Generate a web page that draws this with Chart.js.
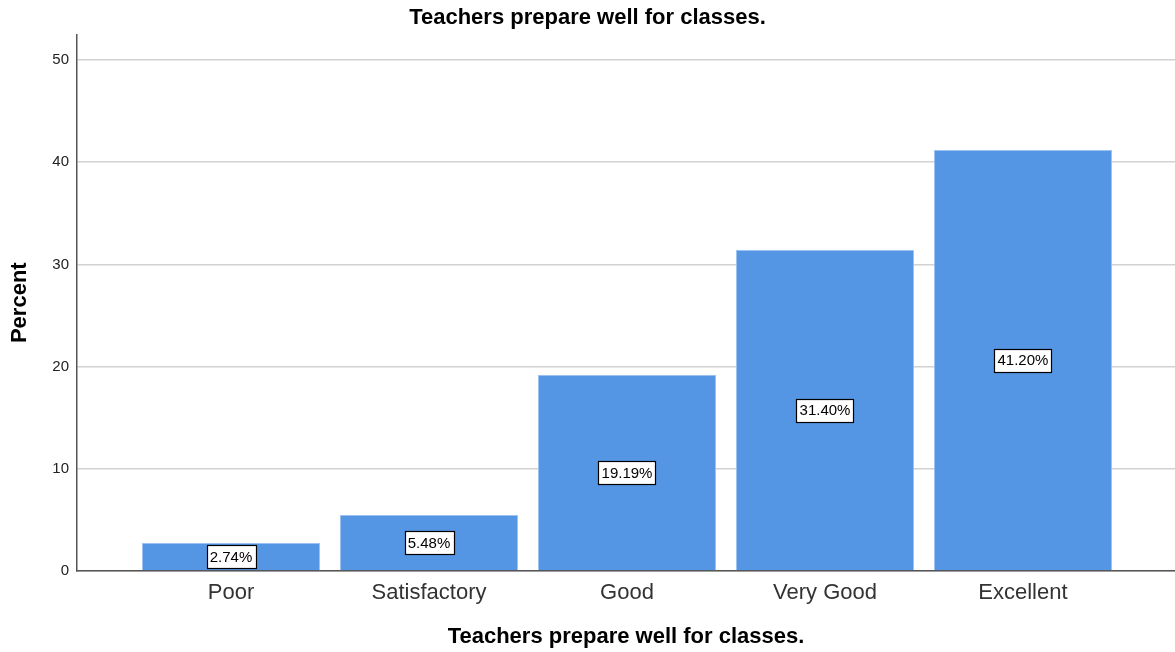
<!DOCTYPE html>
<html>
<head>
<meta charset="utf-8">
<script src="https://cdn.jsdelivr.net/npm/chart.js@4.4.1/dist/chart.umd.min.js"></script>
<style>
  html, body { margin: 0; padding: 0; background: #fff; }
  #wrap { width: 1175px; height: 652px; }
</style>
</head>
<body>
<div id="wrap"><canvas id="chart" width="1175" height="652"></canvas></div>
<script>
const categories = ['Poor', 'Satisfactory', 'Good', 'Very Good', 'Excellent'];
const percents = [2.74, 5.48, 19.19, 31.40, 41.20];
const yTicks = [0, 10, 20, 30, 40, 50];
const chartTitle = 'Teachers prepare well for classes.';
const FONT = '"Liberation Sans", Arial, sans-serif';

// boxed value labels in the middle of each bar
const boxLabels = {
  id: 'boxLabels',
  afterDatasetsDraw(chart) {
    const ctx = chart.ctx;
    const meta = chart.getDatasetMeta(0);
    ctx.save();
    ctx.font = '15px ' + FONT;
    ctx.textAlign = 'center';
    ctx.textBaseline = 'middle';
    meta.data.forEach((bar, i) => {
      const txt = percents[i].toFixed(2) + '%';
      const w = Math.round(ctx.measureText(txt).width + 6);
      const h = 23;
      const cy = (bar.y + bar.base) / 2;
      const x0 = Math.round(bar.x - w / 2) + 0.5;
      const y0 = Math.round(cy - h / 2) + 0.5;
      ctx.fillStyle = '#fff';
      ctx.fillRect(x0, y0, w, h);
      ctx.strokeStyle = '#000';
      ctx.lineWidth = 1.2;
      ctx.strokeRect(x0, y0, w, h);
      ctx.fillStyle = '#000';
      ctx.fillText(txt, bar.x, cy + 1);
    });
    ctx.restore();
  }
};

new Chart(document.getElementById('chart'), {
  type: 'bar',
  data: {
    datasets: [{
      data: percents.map((v, i) => ({ x: i + 1, y: v })),
      backgroundColor: '#5596e4',
      borderColor: '#9cc2f0',
      borderWidth: 1,
      barPercentage: 0.9,
      categoryPercentage: 1
    }]
  },
  options: {
    responsive: false,
    animation: false,
    layout: { padding: 0 },
    plugins: {
      legend: { display: false },
      tooltip: { enabled: false },
      title: {
        display: true,
        text: chartTitle,
        color: '#000',
        font: { family: FONT, size: 22, weight: 'bold' },
        padding: { top: 5, bottom: 3 }
      }
    },
    scales: {
      x: {
        type: 'linear',
        offset: false,
        min: 0.222,
        max: 5.768,
        afterBuildTicks: (s) => { s.ticks = categories.map((c, i) => ({ value: i + 1 })); },
        afterFit: (s) => { s.height = 81; },
        grid: { display: false },
        border: { display: true, color: '#555', width: 1.5 },
        ticks: {
          callback: (v) => categories[v - 1],
          color: '#333',
          padding: 1,
          autoSkip: false,
          maxRotation: 0,
          font: { family: FONT, size: 22 }
        },
        title: {
          display: true,
          text: chartTitle,
          color: '#000',
          font: { family: FONT, size: 22, weight: 'bold' },
          padding: { top: 0, bottom: 2 }
        }
      },
      y: {
        min: 0,
        max: 52.5,
        afterBuildTicks: (s) => { s.ticks = yTicks.map(v => ({ value: v })); },
        afterFit: (s) => { s.width = 77; },
        grid: { color: '#d2d2d2', lineWidth: 1.5, drawTicks: false },
        border: { display: true, color: '#555', width: 1.5 },
        ticks: {
          color: '#222',
          padding: 8,
          font: { family: FONT, size: 15 }
        },
        title: {
          display: true,
          text: 'Percent',
          color: '#000',
          font: { family: FONT, size: 22, weight: 'bold' },
          padding: { top: 7, bottom: 0 }
        }
      }
    }
  },
  plugins: [boxLabels]
});
</script>
</body>
</html>
